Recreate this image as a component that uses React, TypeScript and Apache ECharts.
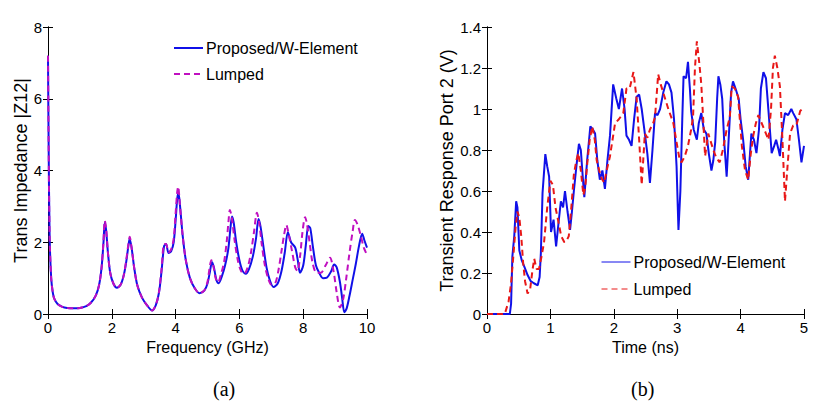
import React, { useEffect, useRef } from "react";
import * as echarts from "echarts";

// ---- Panel (a): transfer impedance vs frequency ----
const freqProposed = [0, 0.02, 0.05, 0.1, 0.15, 0.2, 0.3, 0.45, 0.6, 0.8, 1.0, 1.2, 1.35, 1.5, 1.6, 1.68, 1.74, 1.78, 1.82, 1.88, 1.95, 2.05, 2.16, 2.28, 2.38, 2.46, 2.52, 2.56, 2.62, 2.7, 2.8, 2.95, 3.1, 3.26, 3.38, 3.48, 3.56, 3.64, 3.7, 3.78, 3.86, 3.94, 4.0, 4.05, 4.09, 4.14, 4.22, 4.32, 4.45, 4.6, 4.75, 4.9, 5.0, 5.08, 5.14, 5.2, 5.28, 5.35, 5.45, 5.55, 5.65, 5.72, 5.77, 5.82, 5.9, 6.0, 6.1, 6.2, 6.3, 6.42, 6.52, 6.6, 6.66, 6.75, 6.85, 6.95, 7.07, 7.2, 7.32, 7.42, 7.52, 7.62, 7.75, 7.83, 7.9, 8.0, 8.08, 8.16, 8.22, 8.3, 8.4, 8.5, 8.62, 8.75, 8.88, 8.97, 9.05, 9.15, 9.22, 9.29, 9.36, 9.45, 9.55, 9.65, 9.75, 9.85, 9.92, 10];
const zProposed = [7.2, 4.7, 2.2, 1.0, 0.6, 0.42, 0.28, 0.2, 0.17, 0.16, 0.17, 0.22, 0.32, 0.52, 0.8, 1.3, 2.0, 2.55, 2.35, 1.7, 1.15, 0.85, 0.73, 0.82, 1.1, 1.5, 1.9, 2.1, 1.85, 1.3, 0.8, 0.45, 0.25, 0.1, 0.25, 0.6, 1.2, 1.9, 1.95, 1.7, 1.75, 2.0, 2.6, 3.2, 3.38, 3.0, 2.2, 1.5, 1.0, 0.72, 0.58, 0.65, 0.85, 1.2, 1.45, 1.3, 0.95, 0.86, 1.05, 1.35, 1.8, 2.4, 2.72, 2.55, 2.0, 1.5, 1.2, 1.12, 1.25, 1.6, 2.1, 2.65, 2.45, 1.9, 1.3, 0.95, 0.75, 0.85, 1.2, 1.7, 2.28, 2.0, 1.85, 1.5, 1.15, 1.35, 1.9, 2.45, 2.4, 1.9, 1.35, 1.15, 1.0, 1.02, 1.2, 1.38, 1.3, 0.9, 0.45, 0.05, 0.15, 0.5, 0.95, 1.4, 1.9, 2.24, 2.05, 1.85];

const freqLumped = [0, 0.02, 0.05, 0.1, 0.15, 0.2, 0.3, 0.45, 0.6, 0.8, 1.0, 1.2, 1.35, 1.5, 1.6, 1.68, 1.74, 1.78, 1.82, 1.88, 1.95, 2.05, 2.16, 2.28, 2.38, 2.46, 2.52, 2.56, 2.62, 2.7, 2.8, 2.95, 3.1, 3.26, 3.38, 3.48, 3.56, 3.64, 3.7, 3.78, 3.86, 3.94, 4.0, 4.05, 4.08, 4.13, 4.22, 4.32, 4.45, 4.6, 4.75, 4.9, 5.0, 5.06, 5.12, 5.18, 5.26, 5.33, 5.42, 5.52, 5.6, 5.66, 5.7, 5.76, 5.85, 5.95, 6.05, 6.15, 6.26, 6.36, 6.46, 6.55, 6.62, 6.7, 6.8, 6.9, 7.0, 7.12, 7.22, 7.32, 7.4, 7.47, 7.55, 7.65, 7.75, 7.82, 7.9, 7.98, 8.06, 8.12, 8.2, 8.3, 8.42, 8.55, 8.7, 8.84, 8.95, 9.05, 9.15, 9.25, 9.35, 9.45, 9.55, 9.62, 9.7, 9.8, 9.9, 10];
const zLumped = [7.2, 4.8, 2.2, 1.0, 0.6, 0.42, 0.28, 0.2, 0.17, 0.16, 0.17, 0.22, 0.32, 0.52, 0.8, 1.3, 2.05, 2.6, 2.4, 1.7, 1.15, 0.85, 0.73, 0.82, 1.1, 1.55, 1.95, 2.15, 1.85, 1.3, 0.8, 0.45, 0.25, 0.1, 0.25, 0.62, 1.25, 1.95, 1.95, 1.72, 1.8, 2.1, 2.8, 3.4, 3.55, 3.1, 2.2, 1.5, 1.0, 0.72, 0.58, 0.66, 0.9, 1.25, 1.5, 1.35, 0.98, 0.88, 1.1, 1.45, 2.0, 2.6, 2.9, 2.7, 2.05, 1.5, 1.2, 1.12, 1.3, 1.7, 2.3, 2.82, 2.55, 1.95, 1.35, 1.0, 0.82, 0.85, 1.2, 1.75, 2.2, 2.48, 2.2, 1.75, 1.3, 1.2, 1.6, 2.3, 2.7, 2.5, 2.0, 1.4, 1.15, 1.15, 1.35, 1.57, 1.2, 0.6, 0.18, 0.4, 1.0, 1.7, 2.3, 2.62, 2.5, 2.2, 1.85, 1.65];

// ---- Panel (b): transient response vs time ----
const timeProposed = [0, 0.36, 0.38, 0.4, 0.43, 0.46, 0.48, 0.51, 0.55, 0.59, 0.64, 0.69, 0.74, 0.8, 0.83, 0.85, 0.876, 0.92, 0.95, 0.98, 1.01, 1.05, 1.09, 1.13, 1.165, 1.2, 1.23, 1.27, 1.31, 1.34, 1.37, 1.41, 1.45, 1.48, 1.51, 1.535, 1.58, 1.63, 1.67, 1.705, 1.74, 1.78, 1.82, 1.86, 1.9, 1.94, 1.99, 2.04, 2.08, 2.13, 2.17, 2.2, 2.24, 2.28, 2.32, 2.36, 2.4, 2.44, 2.49, 2.53, 2.57, 2.61, 2.65, 2.69, 2.73, 2.78, 2.83, 2.87, 2.91, 2.95, 2.99, 3.02, 3.05, 3.08, 3.1, 3.14, 3.17, 3.2, 3.22, 3.26, 3.31, 3.34, 3.38, 3.42, 3.46, 3.5, 3.54, 3.57, 3.6, 3.63, 3.65, 3.68, 3.71, 3.74, 3.78, 3.82, 3.85, 3.88, 3.92, 3.97, 4.0, 4.04, 4.08, 4.12, 4.17, 4.21, 4.25, 4.29, 4.32, 4.36, 4.4, 4.44, 4.49, 4.53, 4.56, 4.6, 4.62, 4.66, 4.7, 4.75, 4.8, 4.83, 4.88, 4.92, 4.96, 4.98, 5.0];
const vProposed = [0, 0, 0.05, 0.28, 0.38, 0.55, 0.52, 0.31, 0.26, 0.23, 0.19, 0.16, 0.15, 0.14, 0.18, 0.3, 0.59, 0.78, 0.72, 0.67, 0.4, 0.46, 0.33, 0.45, 0.55, 0.52, 0.6, 0.5, 0.41, 0.5, 0.6, 0.72, 0.83, 0.8, 0.67, 0.57, 0.75, 0.915, 0.9, 0.88, 0.75, 0.655, 0.7, 0.61, 0.75, 0.87, 1.12, 1.05, 1.0, 1.1, 1.0, 0.87, 0.85, 0.82, 0.95, 1.06, 1.07, 1.0, 0.88, 0.78, 0.64, 0.8, 0.98, 0.97, 1.0, 1.08, 1.135, 1.12, 1.08, 0.95, 0.72, 0.41, 0.6, 0.95, 1.16, 1.15, 1.23, 1.1, 0.99, 0.9, 0.85, 0.93, 0.98, 0.9, 0.88, 0.78, 0.7, 0.75, 0.84, 1.05, 1.16, 1.12, 1.05, 0.85, 0.67, 0.9, 1.08, 1.135, 1.1, 1.05, 0.95, 0.85, 0.72, 0.655, 0.88, 0.85, 0.785, 0.9, 1.1, 1.18, 1.15, 0.99, 0.785, 0.82, 0.85, 0.8, 0.77, 0.9, 0.98, 0.97, 1.0, 0.98, 0.95, 0.85, 0.74, 0.78, 0.82];

const timeLumped = [0, 0.28, 0.3, 0.34, 0.38, 0.42, 0.45, 0.48, 0.51, 0.54, 0.57, 0.6, 0.64, 0.68, 0.72, 0.745, 0.78, 0.82, 0.86, 0.9, 0.95, 1.0, 1.04, 1.08, 1.12, 1.17, 1.22, 1.26, 1.29, 1.33, 1.37, 1.41, 1.44, 1.48, 1.52, 1.55, 1.58, 1.62, 1.66, 1.7, 1.73, 1.77, 1.81, 1.85, 1.88, 1.94, 1.98, 2.02, 2.08, 2.15, 2.2, 2.25, 2.31, 2.36, 2.4, 2.44, 2.49, 2.53, 2.57, 2.62, 2.65, 2.7, 2.74, 2.78, 2.86, 2.94, 3.0, 3.04, 3.07, 3.12, 3.17, 3.22, 3.25, 3.28, 3.31, 3.35, 3.38, 3.41, 3.44, 3.49, 3.53, 3.57, 3.62, 3.67, 3.72, 3.78, 3.83, 3.86, 3.91, 3.96, 4.02, 4.07, 4.12, 4.16, 4.2, 4.24, 4.28, 4.32, 4.36, 4.4, 4.44, 4.48, 4.51, 4.54, 4.58, 4.62, 4.66, 4.7, 4.74, 4.78, 4.83, 4.88, 4.94, 5.0];
const vLumped = [0, 0, 0.02, 0.06, 0.15, 0.3, 0.42, 0.5, 0.47, 0.38, 0.25, 0.16, 0.1, 0.12, 0.22, 0.27, 0.22, 0.22, 0.28, 0.35, 0.52, 0.65, 0.63, 0.52, 0.46, 0.38, 0.35, 0.36, 0.38, 0.52, 0.68, 0.75, 0.785, 0.7, 0.58, 0.62, 0.73, 0.85, 0.915, 0.85, 0.75, 0.7, 0.66, 0.64, 0.69, 0.77, 0.85, 0.93, 0.95, 0.98, 1.1, 1.1, 1.18, 1.05, 0.85, 0.63, 0.88, 0.86, 0.9, 0.93, 0.96, 1.17, 1.12, 1.08, 1.0, 0.93, 0.82, 0.75, 0.74, 0.77, 0.82, 0.9, 0.96, 1.2, 1.33, 1.22, 1.12, 0.95, 0.77, 0.88, 0.84, 0.8, 0.76, 0.74, 0.8, 0.9, 0.96, 1.11, 1.1, 1.06, 0.82, 0.7, 0.655, 0.78, 0.87, 0.93, 0.97, 0.94, 0.91, 0.88, 0.85, 1.0, 1.2, 1.26, 1.2, 1.11, 0.85, 0.55, 0.72, 0.88, 0.92, 0.92, 0.99, 1.01];

const seriesNames = ["Proposed/W-Element", "Lumped"];
const xTitles = ["Frequency (GHz)", "Time (ns)"];
const yTitles = ["Trans Impedance |Z12|", "Transient Response Port 2 (V)"];
const panelTags = ["(a)", "(b)"];

const zip = (xs: number[], ys: number[]) => xs.map((x, i) => [x, ys[i]]);

const FONT = "Liberation Sans, Arial, sans-serif";

export default function App() {
  const ref = useRef<HTMLDivElement>(null);
  useEffect(() => {
    if (!ref.current) return;
    const chart = echarts.init(ref.current, null, { renderer: "svg" });
    const black = "#000";
    const mainAxisBase = {
      axisLine: { show: true, lineStyle: { color: black, width: 1 } },
      axisTick: { show: true, inside: true, length: 5, lineStyle: { color: black } },
      splitLine: { show: false },
      axisLabel: { color: black, fontSize: 15, fontFamily: FONT, margin: 6 },
    };
    const mirrorBase = {
      axisLine: { show: true, lineStyle: { color: black, width: 1 } },
      axisTick: { show: true, inside: true, length: 5, lineStyle: { color: black } },
      splitLine: { show: false },
      axisLabel: { show: false },
    };
    const option: any = {
      animation: false,
      backgroundColor: "#fff",
      grid: [
        { left: 48, top: 27, width: 319, height: 287, containLabel: false },
        { left: 487, top: 27, width: 317, height: 287, containLabel: false },
      ],
      xAxis: [
        {
          ...mainAxisBase, type: "value", gridIndex: 0, position: "bottom", min: 0, max: 10, interval: 2,
          name: xTitles[0], nameLocation: "middle", nameGap: 25,
          nameTextStyle: { color: black, fontSize: 16, fontFamily: FONT },
        },
        { ...mirrorBase, type: "value", gridIndex: 0, position: "top", min: 0, max: 10, interval: 2 },
        {
          ...mainAxisBase, type: "value", gridIndex: 1, position: "bottom", min: 0, max: 5, interval: 1,
          name: xTitles[1], nameLocation: "middle", nameGap: 25,
          nameTextStyle: { color: black, fontSize: 16, fontFamily: FONT },
        },
        { ...mirrorBase, type: "value", gridIndex: 1, position: "top", min: 0, max: 5, interval: 1 },
      ],
      yAxis: [
        {
          ...mainAxisBase, type: "value", gridIndex: 0, position: "left", min: 0, max: 8, interval: 2,
          name: yTitles[0], nameLocation: "middle", nameGap: 14,
          nameTextStyle: { color: black, fontSize: 18, fontFamily: FONT },
        },
        { ...mirrorBase, type: "value", gridIndex: 0, position: "right", min: 0, max: 8, interval: 2 },
        {
          ...mainAxisBase, type: "value", gridIndex: 1, position: "left", min: 0, max: 1.4, interval: 0.2,
          axisLabel: { ...mainAxisBase.axisLabel, formatter: (v: number) => (Math.round(v * 10) / 10).toString() },
          name: yTitles[1], nameLocation: "middle", nameGap: 30,
          nameTextStyle: { color: black, fontSize: 18, fontFamily: FONT },
        },
        { ...mirrorBase, type: "value", gridIndex: 1, position: "right", min: 0, max: 1.4, interval: 0.2 },
      ],
      legend: [
        {
          data: ["a:" + seriesNames[0], "a:" + seriesNames[1]],
          orient: "vertical", left: 173, top: 40, padding: 0,
          itemWidth: 29, itemHeight: 14, itemGap: 10,
          formatter: (n: string) => n.slice(2),
          textStyle: { color: black, fontSize: 16, fontFamily: FONT, padding: [0, 0, 0, -2] },
          itemStyle: { opacity: 0 },
          selectedMode: false,
        },
        {
          data: ["b:" + seriesNames[0], "b:" + seriesNames[1]],
          orient: "vertical", left: 601, top: 254, padding: 0,
          itemWidth: 29, itemHeight: 14, itemGap: 11,
          formatter: (n: string) => n.slice(2),
          textStyle: { color: black, fontSize: 16, fontFamily: FONT, padding: [0, 0, 0, -2] },
          lineStyle: { width: 1 },
          itemStyle: { opacity: 0 },
          selectedMode: false,
        },
      ],
      series: [
        {
          name: "a:" + seriesNames[0], type: "line", xAxisIndex: 0, yAxisIndex: 0,
          data: zip(freqProposed, zProposed), showSymbol: false, symbol: "none", smooth: 0.3,
          lineStyle: { color: "#1010e8", width: 2 }, itemStyle: { color: "#1010e8" }, z: 2,
        },
        {
          name: "a:" + seriesNames[1], type: "line", xAxisIndex: 0, yAxisIndex: 0,
          data: zip(freqLumped, zLumped), showSymbol: false, symbol: "none", smooth: 0.3,
          lineStyle: { color: "#c010c0", width: 2, type: [6, 4] }, itemStyle: { color: "#c010c0" }, z: 3,
        },
        {
          name: "b:" + seriesNames[0], type: "line", xAxisIndex: 2, yAxisIndex: 2,
          data: zip(timeProposed, vProposed), showSymbol: false, symbol: "none",
          lineStyle: { color: "#1010e8", width: 2 }, itemStyle: { color: "#1010e8" }, z: 2,
        },
        {
          name: "b:" + seriesNames[1], type: "line", xAxisIndex: 2, yAxisIndex: 2,
          data: zip(timeLumped, vLumped), showSymbol: false, symbol: "none",
          lineStyle: { color: "#e81818", width: 2, type: [6, 4] }, itemStyle: { color: "#e81818" }, z: 3,
        },
      ],
      graphic: [
        {
          type: "text", left: 213, top: 379,
          style: { text: panelTags[0], fontSize: 20, fontFamily: "Liberation Serif, Times New Roman, serif", fill: black },
        },
        {
          type: "text", left: 631, top: 379,
          style: { text: panelTags[1], fontSize: 20, fontFamily: "Liberation Serif, Times New Roman, serif", fill: black },
        },
      ],
    };
    chart.setOption(option);
    return () => chart.dispose();
  }, []);
  return (
    <div
      ref={ref}
      style={{ position: "absolute", left: 0, top: 0, width: 814, height: 404, background: "#fff" }}
    />
  );
}
